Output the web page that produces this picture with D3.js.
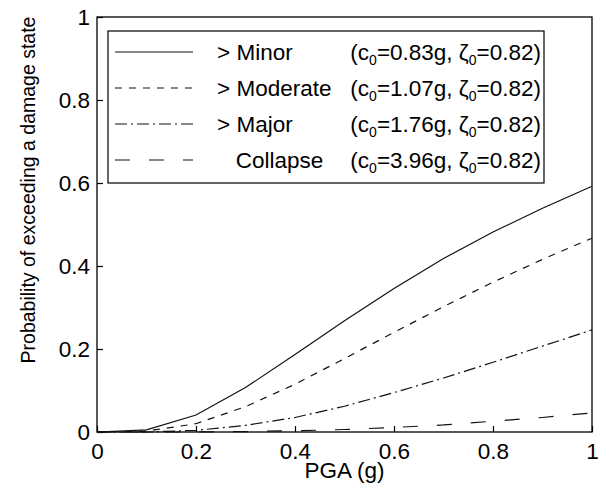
<!DOCTYPE html>
<html>
<head>
<meta charset="utf-8">
<script src="https://cdn.jsdelivr.net/npm/d3@7/dist/d3.min.js"></script>
<style>
    body { margin: 0; background: #fff; }
    svg text { font-family: "Liberation Sans", Arial, Helvetica, sans-serif; fill: #000; }
</style>
</head>
<body>
<div id="chart"></div>
<script>
var width = 603;
var height = 488;
var margin = { top: 17, right: 11, bottom: 56, left: 97 };
var plotW = width - margin.left - margin.right;
var plotH = height - margin.top - margin.bottom;
var fontSize = 22.5;

// values, one per 0.1 g
var pga = [0, 0.1, 0.2, 0.3, 0.4, 0.5, 0.6, 0.7, 0.8, 0.9, 1.0];
var minor = [0, 0.005, 0.041, 0.107, 0.187, 0.268, 0.346, 0.418, 0.482, 0.539, 0.592];
var moderate = [0, 0.002, 0.020, 0.061, 0.115, 0.177, 0.240, 0.302, 0.361, 0.416, 0.467];
var major = [0, 0.000, 0.004, 0.016, 0.035, 0.062, 0.095, 0.130, 0.168, 0.207, 0.246];
var collapse = [0, 0.000, 0.000, 0.001, 0.003, 0.006, 0.011, 0.017, 0.026, 0.035, 0.046];

var seriesNames = ["> Minor", "> Moderate", "> Major", "   Collapse"];
var medians = ["0.83", "1.07", "1.76", "3.96"];
var dispersion = "0.82";
var xTicks = [0, 0.2, 0.4, 0.6, 0.8, 1];
var yTicks = [0, 0.2, 0.4, 0.6, 0.8, 1];

// line styles, same order as the series
var dashes = ["none", "7,7", "12,4,2,4", "15,19"];

var series = [minor, moderate, major, collapse];

var svg = d3.select("#chart")
    .append("svg")
    .attr("width", width)
    .attr("height", height);

var g = svg.append("g")
    .attr("transform", "translate(" + margin.left + "," + margin.top + ")");

var x = d3.scaleLinear().domain([0, 1]).range([0, plotW]);
var y = d3.scaleLinear().domain([0, 1]).range([plotH, 0]);

/**
 * Axes, MATLAB style: ticks point inwards, box around the plot.
 */
var xAxis = g.append("g")
    .attr("transform", "translate(0," + plotH + ")")
    .call(d3.axisBottom(x).tickValues(xTicks).tickSize(-6).tickPadding(11).tickFormat(d3.format("~g")));

var yAxis = g.append("g")
    .call(d3.axisLeft(y).tickValues(yTicks).tickSize(-6).tickPadding(7).tickFormat(d3.format("~g")));

[xAxis, yAxis].forEach(function (a) {
    a.select(".domain").remove();
    a.selectAll(".tick line").attr("stroke", "#000").attr("stroke-width", 1.2);
    a.selectAll(".tick text").attr("font-size", fontSize);
});

g.append("rect")
    .attr("width", plotW)
    .attr("height", plotH)
    .attr("fill", "none")
    .attr("stroke", "#000")
    .attr("stroke-width", 1.3);

var line = d3.line()
    .x(function (d, i) { return x(pga[i]); })
    .y(function (d) { return y(d); });

g.selectAll(".curve")
    .data(series)
    .enter()
    .append("path")
    .attr("class", "curve")
    .attr("d", line)
    .attr("fill", "none")
    .attr("stroke", "#111")
    .attr("stroke-width", 1.2)
    .attr("stroke-dasharray", function (d, i) { return dashes[i]; });

/**
 * Legend box in the upper left corner.
 */
var legend = g.append("g")
    .attr("transform", "translate(11,14)");

var legW = 436;
var rowH = 36;

legend.append("rect")
    .attr("width", legW)
    .attr("height", rowH * 4 + 8)
    .attr("fill", "#fff")
    .attr("stroke", "#000")
    .attr("stroke-width", 1.2);

var rows = legend.selectAll(".row")
    .data(seriesNames)
    .enter()
    .append("g")
    .attr("class", "row")
    .attr("transform", function (d, i) { return "translate(0," + (21 + i * rowH) + ")"; });

rows.append("line")
    .attr("x1", 7)
    .attr("x2", 85)
    .attr("stroke", "#111")
    .attr("stroke-width", 1.2)
    .attr("stroke-dasharray", function (d, i) { return dashes[i]; });

rows.append("text")
    .attr("x", 109)
    .attr("dy", "0.35em")
    .attr("font-size", fontSize)
    .style("white-space", "pre")
    .text(function (d) { return d; });

var params = rows.append("text")
    .attr("x", 433)
    .attr("dy", "0.35em")
    .attr("font-size", fontSize)
    .attr("text-anchor", "end");

params.append("tspan").text("(c");
params.append("tspan").attr("font-size", 14).attr("dy", 5).text("0");
params.append("tspan").attr("dy", -5).text(function (d, i) { return "=" + medians[i] + "g, \u03b6"; });
params.append("tspan").attr("font-size", 14).attr("dy", 5).text("0");
params.append("tspan").attr("dy", -5).text("=" + dispersion + ")");

// axis titles
g.append("text")
    .attr("x", plotW / 2)
    .attr("y", plotH + 46)
    .attr("text-anchor", "middle")
    .attr("font-size", fontSize)
    .text("PGA (g)");

g.append("text")
    .attr("transform", "translate(" + (28 - margin.left) + "," + (190 - margin.top) + ") rotate(-90)")
    .attr("text-anchor", "middle")
    .attr("dy", "0.35em")
    .attr("font-size", 19.5)
    .text("Probability of exceeding a damage state");
</script>
</body>
</html>
